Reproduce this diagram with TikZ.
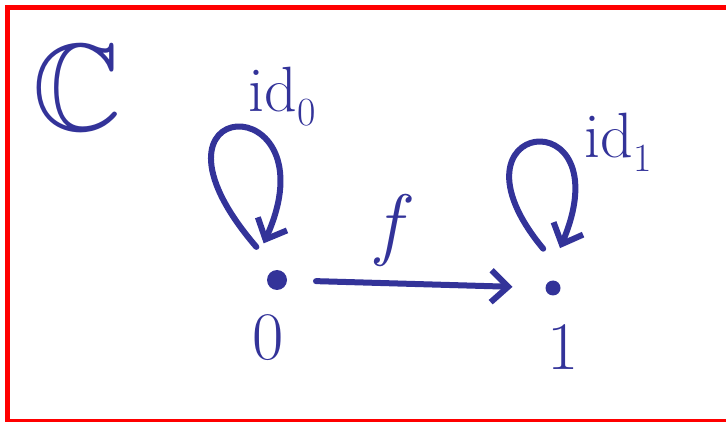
\documentclass[tikz,border=0pt]{standalone}
\usepackage{amsmath, amssymb}
\usepackage{fontspec}
\usepackage{xcolor}
\usepackage{tikz}
\usetikzlibrary{arrows.meta, positioning}

\definecolor{ink}{HTML}{333399}
\definecolor{frame}{HTML}{FF0000}

\newcommand{\inksize}[1]{\fontsize{#1}{#1}\selectfont}

\tikzset{
    pen/.style={draw=ink, line width=6pt, line cap=round, line join=round},
    dot/.style={circle, fill=ink, inner sep=0pt},
    lab/.style={text=ink, inner sep=0pt}
}

\begin{document}
\begin{tikzpicture}[>={Straight Barb[length=17pt, width=32pt]}, x=1pt, y=-1pt]

    % =================================================================
    % 1. KHUNG
    % =================================================================
    \useasboundingbox (0,0) rectangle (726,422);
    \clip (0,0) rectangle (726,422);
    \draw[frame, line width=5pt] (7.5,8) rectangle (760,421.5);

    % =================================================================
    % 2. CAC DOI TUONG 0 VA 1
    % =================================================================
    \node[dot, minimum size=20pt, outer sep=29pt] (n0) at (277,280) {};
    \node[dot, minimum size=15pt, outer sep=33pt] (n1) at (553,288) {};

    \node[lab, font=\inksize{124}] (cat) at (77,88) {$\mathbb{C}$};
    \node[lab, font=\inksize{68}] (lab0) at (268,338) {0};
    \node[lab, font=\inksize{68}] (lab1) at (563,347) {1};

    % =================================================================
    % 3. CAC MUI TEN
    % =================================================================
    \draw[pen, ->] (n0) -- (n1)
        node[lab, pos=0.4, above=14pt, font=\inksize{80}] (fl) {\textit{f}};
    \draw[pen, ->] (n0.122) .. controls +(-134,-156) and +(71,-158) .. (n0.110);
    \draw[pen, ->] (n1.104) .. controls +(-108,-130) and +(64,-152) .. (n1.80);

    % nhan cua cac mui ten dong nhat
    \node[lab, font=\inksize{64}] (id0) at (282,97)
        {id\raisebox{-14pt}{\inksize{40}0}};
    \node[lab, font=\inksize{64}] (id1) at (618,142)
        {id\raisebox{-14pt}{\inksize{40}1}};

\end{tikzpicture}
\end{document}
